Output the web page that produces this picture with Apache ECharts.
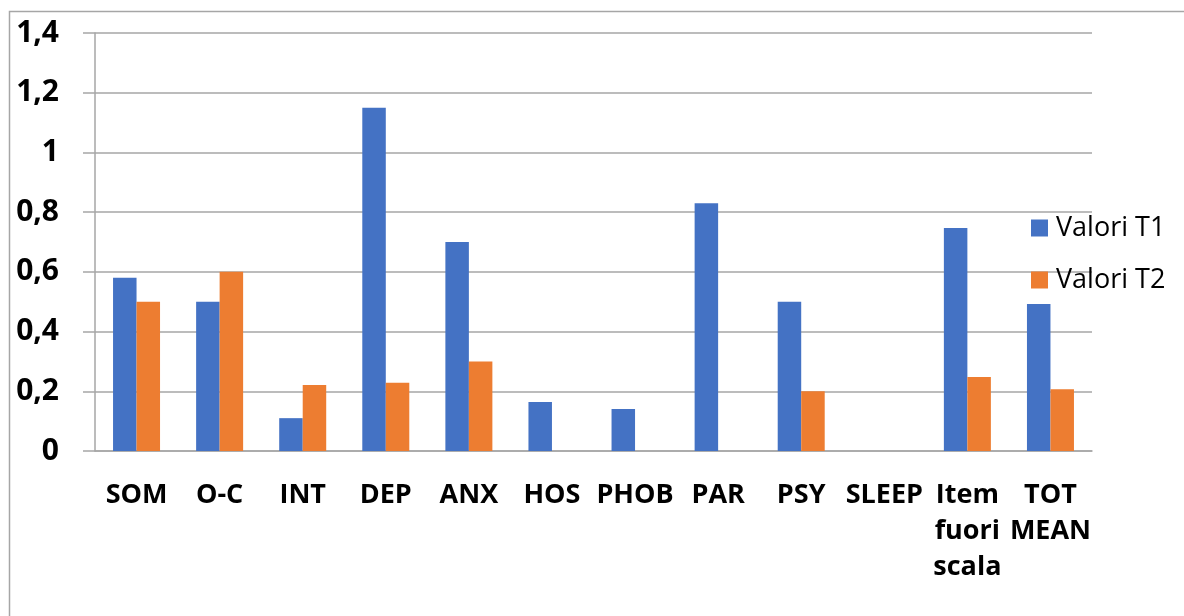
<!DOCTYPE html>
<html>
<head>
<meta charset="utf-8">
<script src="https://cdn.jsdelivr.net/npm/echarts@6/dist/echarts.min.js"></script>
<style>
  html, body { margin: 0; padding: 0; background: #fff; }
  #chart { width: 1184px; height: 616px; }
</style>
</head>
<body>
<div id="chart"></div>
<script>
  // categorie e valori
  var categories = ['SOM', 'O-C', 'INT', 'DEP', 'ANX', 'HOS', 'PHOB', 'PAR', 'PSY', 'SLEEP', 'Item\nfuori\nscala', 'TOT\nMEAN'];
  var valoriT1 = [0.58, 0.5, 0.11, 1.15, 0.7, 0.164, 0.141, 0.83, 0.5, 0, 0.747, 0.492];
  var valoriT2 = [0.5, 0.6, 0.221, 0.229, 0.3, 0, 0, 0, 0.2, 0, 0.248, 0.207];
  var seriesNames = ['Valori T1', 'Valori T2'];
  var colors = ['#4472C4', '#ED7D31'];

  var chart = echarts.init(document.getElementById('chart'));
  var gridColor = '#a6a6a6';
  var font = '"Open Sans", sans-serif';

  var option = {
    animation: false,
    color: colors,
    graphic: [{
      type: 'rect',
      shape: { x: 9.5, y: 11.5, width: 1400, height: 800 },
      style: { fill: 'none', stroke: gridColor, lineWidth: 1.5 },
      silent: true
    }],
    legend: {
      orient: 'vertical',
      left: 1026,
      top: 208,
      itemWidth: 17,
      itemHeight: 17,
      itemGap: 22,
      icon: 'rect',
      data: seriesNames,
      textStyle: {
        fontFamily: font,
        fontSize: 27,
        color: '#000',
        lineHeight: 30,
        padding: [0, 0, 0, 3]
      }
    },
    grid: {
      left: 95,
      right: 92,
      top: 33,
      bottom: 165,
      containLabel: false
    },
    xAxis: {
      type: 'category',
      data: categories,
      axisLine: { lineStyle: { color: gridColor, width: 1.5 } },
      axisTick: { length: 9, lineStyle: { color: gridColor, width: 1.5 } },
      axisLabel: {
        interval: 0,
        margin: 26,
        fontFamily: font,
        fontWeight: 'bold',
        fontSize: 27,
        lineHeight: 36,
        color: '#000',
        verticalAlign: 'top'
      }
    },
    yAxis: {
      type: 'value',
      min: 0,
      max: 1.4,
      interval: 0.2,
      axisLine: { show: true, lineStyle: { color: gridColor, width: 1.5 } },
      axisTick: { show: true, length: 12, lineStyle: { color: gridColor, width: 1.5 } },
      splitLine: { lineStyle: { color: gridColor, width: 1.5 } },
      axisLabel: {
        margin: 36,
        fontFamily: font,
        fontWeight: 'bold',
        fontSize: 30,
        color: '#000',
        formatter: function (v) {
          return String(Math.round(v * 10) / 10).replace('.', ',');
        }
      }
    },
    series: [
      {
        name: seriesNames[0],
        type: 'bar',
        data: valoriT1,
        barWidth: 23.5,
        barGap: '0%'
      },
      {
        name: seriesNames[1],
        type: 'bar',
        data: valoriT2,
        barWidth: 23.5,
        barGap: '0%'
      }
    ]
  };

  chart.setOption(option);
</script>
</body>
</html>
